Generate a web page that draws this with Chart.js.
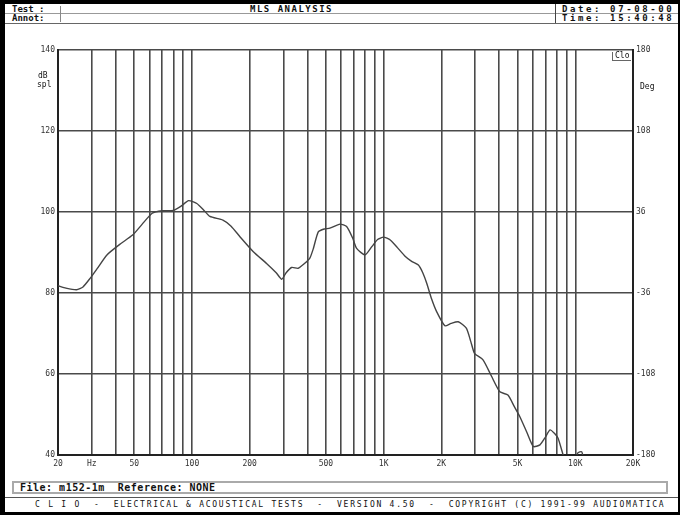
<!DOCTYPE html>
<html>
<head>
<meta charset="utf-8">
<script src="https://cdn.jsdelivr.net/npm/chart.js@4.4.1/dist/chart.umd.min.js"></script>
<style>
  html, body { margin: 0; padding: 0; background: #fff; }
  body { width: 680px; height: 515px; position: relative; overflow: hidden;
         font-family: "DejaVu Sans Mono", monospace; color: #111; }
  .frame { position: absolute; left: 0; top: 0; width: 680px; height: 515px;
           box-sizing: border-box; border-top: 4px solid #000; border-left: 5px solid #000;
           border-bottom: 3px solid #000; border-right: 2px solid #000; }
  .t { position: absolute; white-space: pre; font-weight: bold; line-height: 1; }
  .hline { position: absolute; height: 1px; background: #999; }
  .vline { position: absolute; width: 1px; background: #888; }
  #wrap { position: absolute; left: 0; top: 26px; width: 680px; height: 450px; }
  .fileBox { position: absolute; left: 12px; top: 481px; width: 656px; height: 13px;
             box-sizing: border-box; border: 2px solid #aaa; }
</style>
</head>
<body>
<div class="frame"></div>

<!-- header -->
<div class="hline" style="left:5px;top:13px;width:673px;"></div>
<div class="hline" style="left:5px;top:23px;width:673px;background:#666;"></div>
<div class="vline" style="left:60px;top:6px;height:16px;"></div>
<div class="vline" style="left:555px;top:4px;height:19px;background:#444;"></div>
<div class="t" style="left:12px;top:5px;font-size:9px;">Test :</div>
<div class="t" style="left:12px;top:14px;font-size:9px;">Annot:</div>
<div class="t" style="left:250px;top:5px;font-size:9px;letter-spacing:1.5px;">MLS ANALYSIS</div>
<div class="t" style="left:562px;top:5px;font-size:9px;letter-spacing:2.6px;">Date: 07-08-00</div>
<div class="t" style="left:562px;top:14px;font-size:9px;letter-spacing:2.6px;">Time: 15:40:48</div>

<div id="wrap"><canvas id="c"></canvas></div>

<!-- axis units -->
<div class="t" style="left:38px;top:72px;font-size:8px;font-weight:normal;">dB</div>
<div class="t" style="left:37px;top:81px;font-size:8px;font-weight:normal;">spl</div>
<div class="t" style="left:640px;top:83px;font-size:8px;font-weight:normal;">Deg</div>
<div class="t" style="left:612px;top:52px;font-size:8px;font-weight:normal;border-left:1px solid #666;border-bottom:1px solid #666;padding:0 2px;">Clo</div>

<!-- footer -->
<div class="fileBox"></div>
<div class="t" style="left:20px;top:483px;font-size:10px;letter-spacing:0.5px;">File: m152-1m  Reference: NONE</div>
<div class="hline" style="left:5px;top:497px;width:673px;background:#555;"></div>
<div class="t" style="left:35px;top:501px;font-size:8px;font-weight:normal;letter-spacing:1.75px;">C L I O  -  ELECTRICAL &amp; ACOUSTICAL TESTS  -  VERSION 4.50  -  COPYRIGHT (C) 1991-99 AUDIOMATICA</div>

<script>
// frequency response (Hz, dB spl)
const freqs = [20, 22, 25, 27, 29.4, 32, 36, 42, 49, 55, 62, 70, 80, 88, 96, 106, 115, 124, 145, 160,
  178, 209, 245, 275, 294, 310, 331, 358, 385, 412, 430, 456, 490, 524, 592, 641, 690, 723, 800, 870,
  930, 998, 1083, 1180, 1298, 1400, 1518, 1600, 1678, 1780, 1890, 2088, 2250, 2450, 2700, 2850, 2980,
  3300, 3650, 4040, 4450, 4800, 5130, 5600, 6040, 6540, 7000, 7380, 7800, 8140, 8640, 9300, 10300,
  10800, 11300];
const spl = [81.8, 81.2, 80.8, 81.5, 83.6, 86, 89.4, 92, 94.3, 97, 99.7, 100.3, 100.4, 101.5, 102.8,
  102.1, 100.5, 98.9, 98.0, 96.5, 93.9, 90.2, 87.3, 85, 83.4, 85, 86.3, 86.1, 87.2, 88.6, 91, 95.1,
  95.8, 96.0, 97.0, 96.4, 93.5, 91.0, 89.4, 91.5, 93.2, 93.8, 93.1, 91.2, 89.0, 87.8, 86.9, 85, 82.4,
  78.5, 75.4, 71.9, 72.5, 72.9, 71.3, 68, 65.1, 63.5, 59.5, 55.6, 54.8, 52, 49.5, 45.5, 42.1, 42.5,
  44.5, 46.2, 45.3, 44.1, 40, 35, 40.5, 40.8, 37];

// grid positions and labels on the frequency axis
const freqGrid = [20, 30, 40, 50, 60, 70, 80, 90, 100, 200, 300, 400, 500, 600, 700, 800, 900,
  1000, 2000, 3000, 4000, 5000, 6000, 7000, 8000, 9000, 10000, 20000];
const freqLabels = { 20: '20', 30: 'Hz', 50: '50', 100: '100', 200: '200', 500: '500',
  1000: '1K', 2000: '2K', 5000: '5K', 10000: '10K', 20000: '20K' };
const phaseTicks = [180, 108, 36, -36, -108, -180];

const gridColor = '#4a4a4a';
const tickFont = { family: 'DejaVu Sans Mono', size: 8 };

new Chart(document.getElementById('c'), {
  type: 'line',
  data: {
    datasets: [{
      data: freqs.map((f, i) => ({ x: f, y: spl[i] })),
      borderColor: '#444',
      borderWidth: 1.4,
      pointRadius: 0,
      tension: 0.2,
      fill: false
    }]
  },
  options: {
    responsive: true,
    maintainAspectRatio: false,
    animation: false,
    layout: { padding: { top: 24, left: 0, right: 0, bottom: 0 } },
    plugins: { legend: { display: false }, tooltip: { enabled: false } },
    scales: {
      x: {
        type: 'logarithmic',
        min: 20,
        max: 20000,
        afterBuildTicks: (scale) => { scale.ticks = freqGrid.map(v => ({ value: v })); },
        afterFit: (scale) => { scale.height = 21; },
        ticks: {
          autoSkip: false,
          maxRotation: 0,
          padding: 4,
          color: '#333',
          font: tickFont,
          callback: (v) => freqLabels[v] || ''
        },
        grid: { color: gridColor, lineWidth: 1.6, drawTicks: false },
        border: { color: '#222', width: 2 }
      },
      y: {
        position: 'left',
        min: 40,
        max: 140,
        afterFit: (scale) => { scale.width = 58; },
        ticks: { stepSize: 20, padding: 3, color: '#333', font: tickFont },
        grid: { color: gridColor, lineWidth: 1.6, drawTicks: false },
        border: { color: '#222', width: 2 }
      },
      y2: {
        position: 'right',
        min: -180,
        max: 180,
        afterBuildTicks: (scale) => { scale.ticks = phaseTicks.map(v => ({ value: v })); },
        afterFit: (scale) => { scale.width = 47; },
        ticks: { padding: 3, color: '#333', font: tickFont },
        grid: { drawOnChartArea: false, drawTicks: false },
        border: { color: '#222', width: 2 }
      }
    }
  }
});
</script>
</body>
</html>
